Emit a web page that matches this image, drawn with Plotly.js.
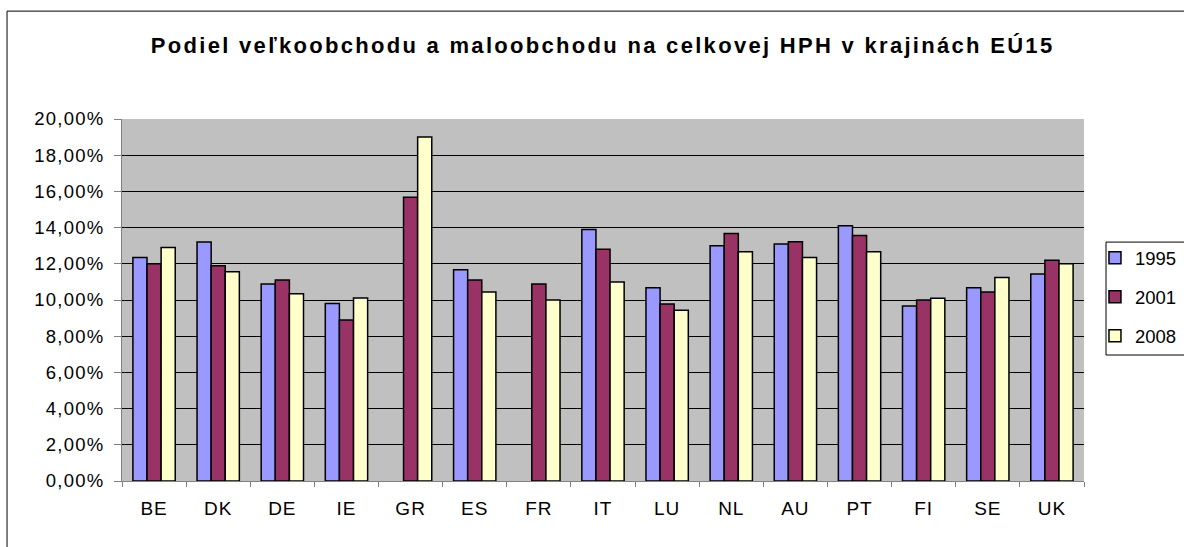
<!DOCTYPE html>
<html>
<head>
<meta charset="utf-8">
<script src="https://cdn.plot.ly/plotly-3.0.1.min.js"></script>
<style>
html,body{margin:0;padding:0;background:#fff;}
#chart{width:1184px;height:547px;}
#chart .gtitle{letter-spacing:2.3px;}
#chart .ytick text{letter-spacing:1.2px;}
#chart .xtick text{letter-spacing:1px;}
</style>
</head>
<body>
<div id="chart"></div>
<script>
const categories = ["BE","DK","DE","IE","GR","ES","FR","IT","LU","NL","AU","PT","FI","SE","UK"];
const v1995 = [12.35,13.2,10.89,9.8,null,11.67,null,13.89,10.67,13.0,13.1,14.1,9.67,10.67,11.44];
const v2001 = [12.0,11.89,11.11,8.89,15.67,11.11,10.89,12.8,9.78,13.67,13.22,13.56,10.0,10.44,12.2];
const v2008 = [12.9,11.56,10.35,10.11,19.0,10.44,10.0,11.0,9.44,12.67,12.35,12.67,10.09,11.24,12.0];
const seriesNames = ["1995","2001","2008"];
const colors = ["#9999FF","#993366","#FFFFCC"];

const vals = [v1995, v2001, v2008];
const traces = vals.map((v, i) => ({
  type: "bar",
  name: seriesNames[i],
  x: categories,
  y: v,
  legendgroup: "g" + i,
  marker: {color: colors[i], line: {color: "#000", width: 1.5}},
  hoverinfo: "x+y"
}));

const layout = {
  width: 1184, height: 547,
  margin: {l: 122, r: 100, t: 119, b: 66, autoexpand: false},
  paper_bgcolor: "#fff",
  plot_bgcolor: "#C0C0C0",
  separators: ", ",
  font: {family: "Liberation Sans, Arial, sans-serif", size: 19, color: "#000"},
  title: {
    text: "<b>Podiel veľkoobchodu a maloobchodu na celkovej HPH v krajinách EÚ15</b>",
    font: {size: 22, family: "Liberation Sans, Arial, sans-serif", color: "#000"},
    x: 0.509, xanchor: "center", y: 0.918, yanchor: "middle"
  },
  barmode: "group",
  bargap: 0.34,
  bargroupgap: 0,
  xaxis: {
    type: "category",
    tickson: "boundaries",
    ticks: "outside", ticklen: 5, tickcolor: "#808080",
    ticklabelstandoff: 10,
    showline: true, linecolor: "#808080", linewidth: 1,
    showgrid: false,
    tickfont: {size: 19},
    fixedrange: true
  },
  yaxis: {
    range: [0, 20],
    dtick: 2,
    tickformat: ".2f",
    ticksuffix: "%",
    ticks: "outside", ticklen: 7, tickcolor: "#808080",
    ticklabelstandoff: 6,
    showline: true, linecolor: "#808080", linewidth: 1,
    showgrid: true, gridcolor: "#000", gridwidth: 1,
    zeroline: false,
    tickfont: {size: 18.5},
    fixedrange: true
  },
  showlegend: true,
  legend: {
    x: 1.0114, xanchor: "left",
    y: 0.668, yanchor: "top",
    bgcolor: "rgba(0,0,0,0)",
    borderwidth: 0,
    font: {size: 18.5},
    traceorder: "grouped",
    tracegroupgap: 12,
    itemwidth: 30
  },
  shapes: [
    {
      type: "rect", xref: "paper", yref: "paper",
      x0: -0.1195, x1: 1.3, y0: -0.4, y1: 1.298,
      line: {color: "#000", width: 1}, fillcolor: "rgba(0,0,0,0)", layer: "below"
    },
    {
      type: "rect", xref: "paper", yref: "paper",
      x0: 1.0229, x1: 1.2, y0: 0.348, y1: 0.660,
      line: {color: "#000", width: 1}, fillcolor: "#fff", layer: "below"
    }
  ]
};

Plotly.newPlot("chart", traces, layout, {displayModeBar: false, staticPlot: true});
</script>
</body>
</html>
